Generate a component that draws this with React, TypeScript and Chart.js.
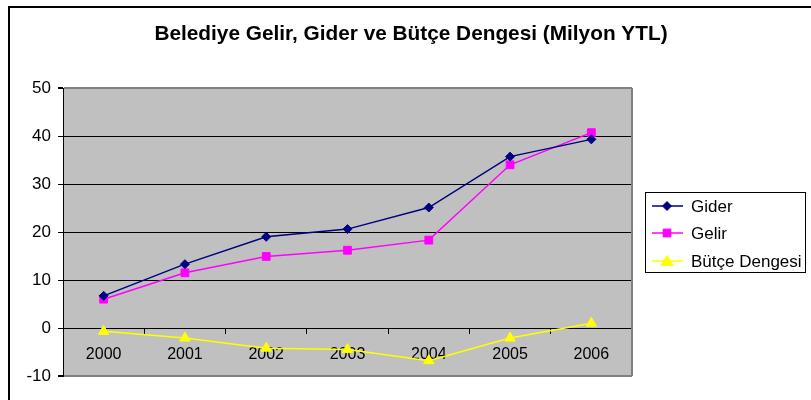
import React, { useEffect, useRef } from "react";
import { Chart, registerables } from "chart.js";

Chart.register(...registerables);

const years = ["2000", "2001", "2002", "2003", "2004", "2005", "2006"];
const gider = [6.7, 13.3, 19.0, 20.6, 25.1, 35.7, 39.3];
const gelir = [6.0, 11.5, 14.9, 16.2, 18.3, 34.0, 40.7];
const butce = [-0.7, -2.1, -4.2, -4.5, -6.8, -2.1, 1.0];
const seriesNames = ["Gider", "Gelir", "Bütçe Dengesi"];
const titleText = "Belediye Gelir, Gider ve Bütçe Dengesi (Milyon YTL)";

const FONT = "'Liberation Sans', Arial, sans-serif";

const framePlugin = {
  id: "frame",
  beforeDraw(chart: any) {
    const { ctx, chartArea: a } = chart;
    ctx.save();
    ctx.fillStyle = "#ffffff";
    ctx.fillRect(0, 0, chart.width, chart.height);
    ctx.fillStyle = "#C0C0C0";
    ctx.fillRect(a.left, a.top, a.right - a.left, a.bottom - a.top);
    ctx.strokeStyle = "#000000";
    ctx.lineWidth = 2;
    ctx.strokeRect(9, 7, chart.width + 20, chart.height + 20);
    ctx.fillStyle = "#000000";
    ctx.font = "bold 20.8px " + FONT;
    ctx.textAlign = "center";
    ctx.textBaseline = "middle";
    ctx.fillText(titleText, 411, 34);
    ctx.restore();
  },
  afterDatasetsDraw(chart: any) {
    const { ctx, chartArea: a } = chart;
    ctx.save();
    ctx.strokeStyle = "#808080";
    ctx.lineWidth = 2;
    ctx.beginPath();
    ctx.moveTo(a.right, a.top);
    ctx.lineTo(a.right, a.bottom);
    ctx.stroke();
    ctx.restore();
  },
  afterDraw(chart: any) {
    const { ctx } = chart;
    const bx = 645.5, by = 192.5, bw = 160, bh = 80;
    ctx.save();
    ctx.strokeStyle = "#000000";
    ctx.lineWidth = 1;
    ctx.strokeRect(bx, by, bw, bh);
    const rows = [206, 233, 261];
    chart.data.datasets.forEach((ds: any, i: number) => {
      const y = rows[i];
      ctx.strokeStyle = ds.borderColor;
      ctx.lineWidth = 1.5;
      ctx.beginPath();
      ctx.moveTo(652, y);
      ctx.lineTo(683, y);
      ctx.stroke();
      ctx.fillStyle = ds.backgroundColor;
      ctx.strokeStyle = ds.borderColor;
      ctx.lineWidth = 1;
      const r = ds.pointRadius;
      const x = 667;
      ctx.beginPath();
      if (ds.pointStyle === "rectRot") {
        ctx.moveTo(x - r, y);
        ctx.lineTo(x, y - r);
        ctx.lineTo(x + r, y);
        ctx.lineTo(x, y + r);
        ctx.closePath();
      } else if (ds.pointStyle === "rect") {
        const s = r * Math.SQRT1_2;
        ctx.rect(x - s, y - s, 2 * s, 2 * s);
      } else {
        const h = r * 1.5;
        ctx.moveTo(x - r * 1.04, y + h / 2);
        ctx.lineTo(x + r * 1.04, y + h / 2);
        ctx.lineTo(x, y - h / 2 - 1);
        ctx.closePath();
      }
      ctx.fill();
      ctx.stroke();
      ctx.fillStyle = "#000000";
      ctx.font = "17px " + FONT;
      ctx.textAlign = "left";
      ctx.textBaseline = "middle";
      ctx.fillText(ds.label, 691, y + 1);
    });
    ctx.restore();
  },
};

export default function App() {
  const ref = useRef<HTMLCanvasElement | null>(null);
  useEffect(() => {
    document.body.style.margin = "0";
    const canvas = ref.current;
    if (!canvas) return;
    const chart = new Chart(canvas, {
      type: "line",
      data: {
        labels: years,
        datasets: [
          {
            label: seriesNames[0],
            data: gider,
            borderColor: "#000080",
            backgroundColor: "#000080",
            borderWidth: 1.5,
            pointStyle: "rectRot",
            pointRadius: 4.5,
            pointBorderWidth: 1,
          },
          {
            label: seriesNames[1],
            data: gelir,
            borderColor: "#FF00FF",
            backgroundColor: "#FF00FF",
            borderWidth: 1.5,
            pointStyle: "rect",
            pointRadius: 5.5,
            pointBorderWidth: 1,
          },
          {
            label: seriesNames[2],
            data: butce,
            borderColor: "#FFFF00",
            backgroundColor: "#FFFF00",
            borderWidth: 1.5,
            pointStyle: "triangle",
            pointRadius: 6,
            pointBorderWidth: 1,
          },
        ],
      },
      options: {
        animation: false,
        responsive: false,
        maintainAspectRatio: false,
        events: [],
        layout: { padding: { left: 0, right: 179, bottom: 24, top: 88 } },
        plugins: {
          legend: { display: false },
          tooltip: { enabled: false },
          title: { display: false },
        },
        scales: {
          y: {
            min: -10,
            max: 50,
            ticks: {
              stepSize: 10,
              color: "#000000",
              font: { family: FONT, size: 17 },
              padding: 7,
            },
            grid: {
              color: (c: any) =>
                c.tick && (c.tick.value === 50 || c.tick.value === -10) ? "#808080" : "#000000",
              lineWidth: (c: any) =>
                c.tick && (c.tick.value === 50 || c.tick.value === -10) ? 2 : 1,
              tickColor: "#000000",
              tickLength: 5,
              drawTicks: true,
            },
            border: { display: true, color: "#000000", width: 1 },
            afterFit: (scale: any) => {
              scale.width = 63;
            },
          },
          x: {
            type: "category",
            position: { y: 0 } as any,
            offset: true,
            ticks: {
              color: "#000000",
              font: { family: FONT, size: 16 },
              padding: 12,
              maxRotation: 0,
            },
            grid: {
              offset: true,
              drawOnChartArea: false,
              drawTicks: true,
              tickLength: 5,
              color: "#000000",
            },
            border: { display: true, color: "#000000", width: 1 },
          },
        },
      },
      plugins: [framePlugin],
    } as any);
    return () => chart.destroy();
  }, []);
  return (
    <div style={{ width: 811, height: 400 }}>
      <canvas ref={ref} width={811} height={400} style={{ display: "block" }} />
    </div>
  );
}
